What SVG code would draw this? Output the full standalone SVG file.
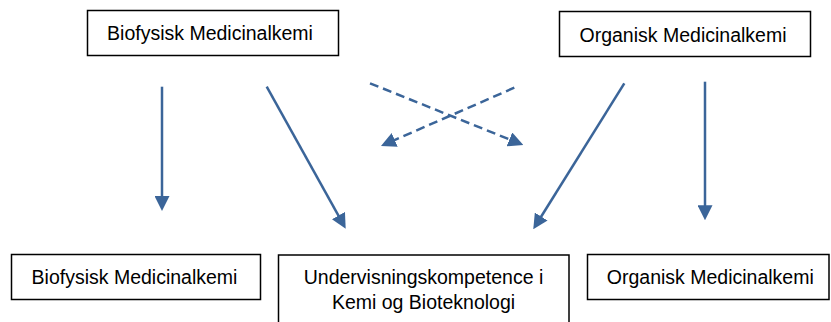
<svg xmlns="http://www.w3.org/2000/svg" width="831" height="322" viewBox="0 0 831 322">
<style>
.box{fill:#fff;stroke:#000;stroke-width:1.5}
.lbl{font-family:"Liberation Sans",Arial,sans-serif;font-size:19.5px;fill:#000;text-anchor:middle}
.con{stroke:#3b6599;stroke-width:2.5;fill:none;marker-end:url(#ah)}
.dash{stroke-dasharray:9 5}
</style>
<defs>
<marker id="ah" viewBox="0 0 15 15" refX="7" refY="7.5" markerWidth="15" markerHeight="15" markerUnits="userSpaceOnUse" orient="auto">
<path d="M0,0 L15,7.5 L0,15 z" fill="#3b6599"/>
</marker>
</defs>
<rect width="831" height="322" fill="#fff"/>
<g id="connectors">
<line class="con" x1="162" y1="86.7" x2="162" y2="203"/>
<line class="con" x1="266.7" y1="86.7" x2="341.8" y2="221.7"/>
<line class="con" x1="624.3" y1="83.3" x2="537.5" y2="222.5"/>
<line class="con" x1="705" y1="81.7" x2="705" y2="212.3"/>
<line class="con dash" x1="370" y1="83.3" x2="515.9" y2="142"/>
<line class="con dash" x1="514.3" y1="87.7" x2="388.3" y2="142.8"/>
</g>
<g id="biofysisk-top">
<rect class="box" x="87.5" y="10.5" width="251" height="45"/>
<text class="lbl" x="210" y="40">Biofysisk Medicinalkemi</text>
</g>
<g id="organisk-top">
<rect class="box" x="559.5" y="11.5" width="251" height="45"/>
<text class="lbl" x="683" y="41.5">Organisk Medicinalkemi</text>
</g>
<g id="biofysisk-bottom">
<rect class="box" x="11.5" y="254.5" width="249" height="45"/>
<text class="lbl" x="134.5" y="283.7">Biofysisk Medicinalkemi</text>
</g>
<g id="undervisning">
<rect class="box" x="278.5" y="255" width="290.5" height="80"/>
<text class="lbl" x="423.5" y="283.7">Undervisningskompetence i</text>
<text class="lbl" x="423.5" y="309">Kemi og Bioteknologi</text>
</g>
<g id="organisk-bottom">
<rect class="box" x="587.5" y="254.5" width="241.5" height="45"/>
<text class="lbl" x="710.3" y="283.7">Organisk Medicinalkemi</text>
</g>
</svg>
